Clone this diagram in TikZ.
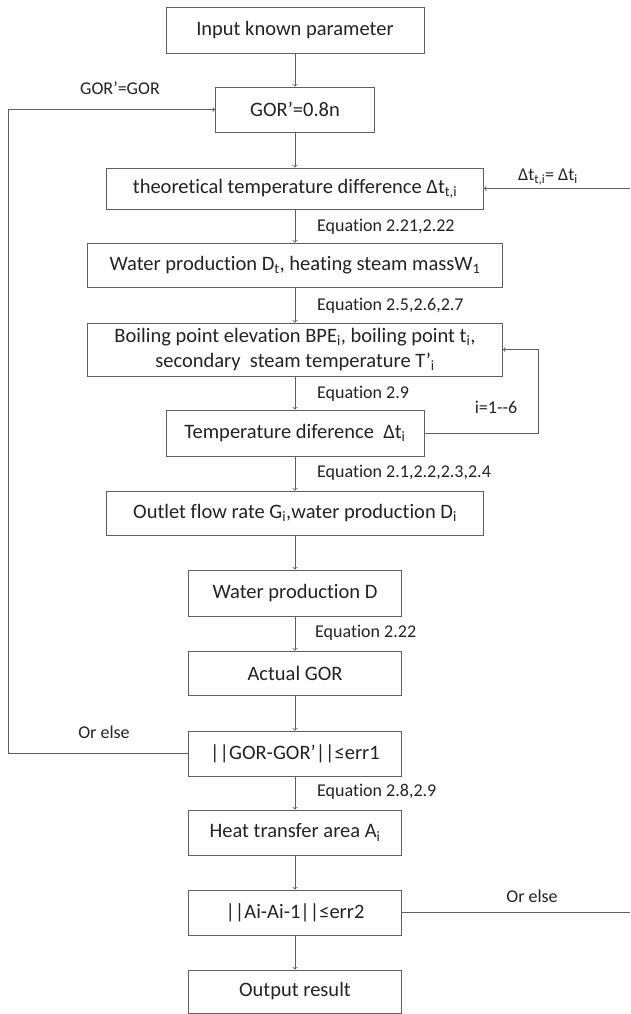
\documentclass[tikz,border=0pt]{standalone}
\usepackage{fontspec}
\setmainfont{Carlito}[Ligatures={NoCommon}]
\usetikzlibrary{positioning}
\definecolor{linegray}{RGB}{95,95,95}
\definecolor{textgray}{RGB}{35,35,35}
\tikzset{
  procbox/.style={rectangle, draw=linegray, line width=0.8pt, inner sep=0pt, align=center, text=textgray, font=\fontsize{20.5}{25}\selectfont},
  eqlabel/.style={anchor=west, inner sep=0pt, text=textgray, font=\fontsize{18}{21}\selectfont},
  sidelabel/.style={inner sep=0pt, text=textgray, font=\fontsize{18}{21}\selectfont},
  flow/.style={->, draw=linegray, line width=0.8pt}
}

\begin{document}
\begin{tikzpicture}[x=1pt, y=1pt]
  \useasboundingbox (0,0) rectangle (630,-1014);
  % Nodes
  \node (input) [procbox, minimum width=258pt, minimum height=46pt] at (295,-30) {Input known parameter};
  \node (gor) [procbox, minimum width=159pt, minimum height=45pt] at (295,-109.5) {GOR’=0.8n};
  \node (theo) [procbox, minimum width=377pt, minimum height=41pt] at (295,-188.5) {theoretical temperature difference Δt\textsubscript{t,i}};
  \node (wprod) [procbox, minimum width=415pt, minimum height=44pt] at (295,-265) {Water production D\textsubscript{t}, heating steam massW\textsubscript{1}};
  \node (boil) [procbox, minimum width=415pt, minimum height=53pt] at (295,-349.5) {Boiling point elevation BPE\textsubscript{i}, boiling point t\textsubscript{i},\\secondary\ \ steam temperature T’\textsubscript{i}};
  \node (tdiff) [procbox, minimum width=258pt, minimum height=46pt] at (295,-433) {Temperature diference\ \ Δt\textsubscript{i}};
  \node (outlet) [procbox, minimum width=377pt, minimum height=44pt] at (295,-513) {Outlet flow rate G\textsubscript{i},water production D\textsubscript{i}};
  \node (wd) [procbox, minimum width=213pt, minimum height=46pt] at (295,-593) {Water production D};
  \node (agor) [procbox, minimum width=213pt, minimum height=44pt] at (295,-673) {Actual GOR};
  \node (chk1) [procbox, minimum width=213pt, minimum height=45pt] at (295,-753.5) {||GOR-GOR’||≤err1};
  \node (area) [procbox, minimum width=213pt, minimum height=45pt] at (295,-832.5) {Heat transfer area A\textsubscript{i}};
  \node (chk2) [procbox, minimum width=213pt, minimum height=45pt] at (295,-912.5) {||Ai-Ai-1||≤err2};
  \node (outp) [procbox, minimum width=213pt, minimum height=43pt] at (295,-991.5) {Output result};
  % Labels
  \node (eqa) [eqlabel] at (317,-227) {Equation 2.21,2.22};
  \node (eqb) [eqlabel] at (317,-306) {Equation 2.5,2.6,2.7};
  \node (eqc) [eqlabel] at (317,-394) {Equation 2.9};
  \node (eqd) [eqlabel] at (317,-473) {Equation 2.1,2.2,2.3,2.4};
  \node (eqe) [eqlabel] at (315,-633) {Equation 2.22};
  \node (eqf) [eqlabel] at (317,-792) {Equation 2.8,2.9};
  \node (gorset) [sidelabel] at (120,-88) {GOR’=GOR};
  \node (dtset) [sidelabel] at (548,-177) {Δt\textsubscript{t,i}= Δt\textsubscript{i}};
  \node (iloop) [sidelabel] at (496,-407) {i=1-{}-6};
  \node (elsea) [sidelabel] at (104,-732) {Or else};
  \node (elseb) [sidelabel] at (532,-896) {Or else};
  % Free ends at the right edge
  \coordinate (rin) at (630,-188.5);
  \coordinate (rout) at (630,-912.5);
  % Arrow
  \draw[flow] (input) -- (gor);
  \draw[flow] (gor) -- (theo);
  \draw[flow] (theo) -- (wprod);
  \draw[flow] (wprod) -- (boil);
  \draw[flow] (boil) -- (tdiff);
  \draw[flow] (tdiff) -- (outlet);
  \draw[flow] (outlet) -- (wd);
  \draw[flow] (wd) -- (agor);
  \draw[flow] (agor) -- (chk1);
  \draw[flow] (chk1) -- (area);
  \draw[flow] (area) -- (chk2);
  \draw[flow] (chk2) -- (outp);
  \draw[flow] (tdiff.east) -- ++(114,0) |- (boil.east);
  \draw[flow] (chk1.west) -- ++(-180,0) |- (gor.west);
  \draw[flow] (rin) -- (theo.east);
  \draw[draw=linegray, line width=0.8pt] (chk2.east) -- (rout);
\end{tikzpicture}
\end{document}
